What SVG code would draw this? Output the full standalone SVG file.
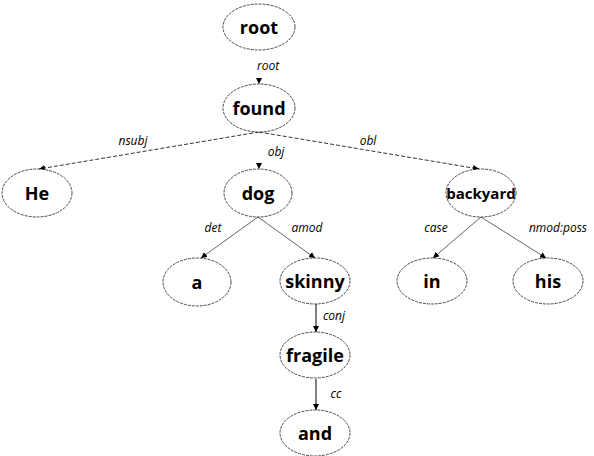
<svg xmlns="http://www.w3.org/2000/svg" width="594" height="456" viewBox="0 0 594 456">
<style>
.node ellipse{fill:#fff;stroke:#000;stroke-width:0.7;stroke-dasharray:3 1}
.node text{font-family:"Open Sans","Liberation Sans",sans-serif;font-weight:bold;font-size:18px;text-anchor:middle;fill:#000}
.lbl{font-family:"Open Sans","Liberation Sans",sans-serif;font-style:italic;font-size:12px;text-anchor:middle;fill:#000}
.dash{stroke:#000;stroke-width:0.8;stroke-dasharray:4 2;fill:none}
.thin{stroke:#222;stroke-width:0.7;fill:none}
.solid{stroke:#000;stroke-width:1;fill:none}
</style>
<defs>
<marker id="ah" viewBox="0 0 10 10" refX="10" refY="5" markerWidth="6" markerHeight="6" orient="auto" markerUnits="userSpaceOnUse">
<path d="M0,0 L10,5 L0,10 z" fill="#000"/>
</marker>
</defs>
<g id="connectors">
<line x1="259" y1="62" x2="259" y2="84" style="stroke:none" marker-end="url(#ah)"/>
<line class="dash" x1="259" y1="132" x2="39" y2="169" marker-end="url(#ah)"/>
<line x1="259" y1="132" x2="259" y2="169" style="stroke:none" marker-end="url(#ah)"/>
<line class="dash" x1="259" y1="132" x2="479" y2="169" marker-end="url(#ah)"/>
<line class="thin" x1="258" y1="217" x2="201" y2="258" marker-end="url(#ah)"/>
<line class="thin" x1="258" y1="217" x2="315" y2="258" marker-end="url(#ah)"/>
<line class="thin" x1="481" y1="217" x2="433" y2="258" marker-end="url(#ah)"/>
<line class="thin" x1="481" y1="217" x2="546" y2="258" marker-end="url(#ah)"/>
<line class="solid" x1="316" y1="304" x2="316" y2="332" marker-end="url(#ah)"/>
<line class="solid" x1="316" y1="379" x2="316" y2="410" marker-end="url(#ah)"/>
<text class="lbl" x="268" y="70">root</text>
<text class="lbl" x="133" y="145">nsubj</text>
<text class="lbl" x="276" y="156">obj</text>
<text class="lbl" x="368" y="145">obl</text>
<text class="lbl" x="213" y="232">det</text>
<text class="lbl" x="307" y="232">amod</text>
<text class="lbl" x="436" y="232">case</text>
<text class="lbl" x="558" y="232">nmod:poss</text>
<text class="lbl" x="334" y="320">conj</text>
<text class="lbl" x="336" y="398">cc</text>
</g>
<g id="n-root" class="node"><ellipse cx="259" cy="27" rx="36" ry="23"/><text x="259" y="34">root</text></g>
<g id="n-found" class="node"><ellipse cx="259" cy="108" rx="36" ry="24"/><text x="259" y="115">found</text></g>
<g id="n-He" class="node"><ellipse cx="37" cy="193" rx="35" ry="24"/><text x="37" y="200">He</text></g>
<g id="n-dog" class="node"><ellipse cx="258" cy="193" rx="34" ry="24"/><text x="258" y="200">dog</text></g>
<g id="n-backyard" class="node"><ellipse cx="481" cy="193" rx="35" ry="24"/><text x="481" y="199" style="font-size:15px">backyard</text></g>
<g id="n-a" class="node"><ellipse cx="197" cy="282" rx="34" ry="24"/><text x="197" y="289">a</text></g>
<g id="n-skinny" class="node"><ellipse cx="315" cy="281" rx="35" ry="23"/><text x="315" y="288">skinny</text></g>
<g id="n-in" class="node"><ellipse cx="432" cy="281" rx="35" ry="23"/><text x="432" y="288">in</text></g>
<g id="n-his" class="node"><ellipse cx="548" cy="281" rx="35" ry="23"/><text x="548" y="288">his</text></g>
<g id="n-fragile" class="node"><ellipse cx="315" cy="355" rx="35" ry="23"/><text x="315" y="362">fragile</text></g>
<g id="n-and" class="node"><ellipse cx="315" cy="433" rx="35" ry="23"/><text x="315" y="440">and</text></g>
</svg>
